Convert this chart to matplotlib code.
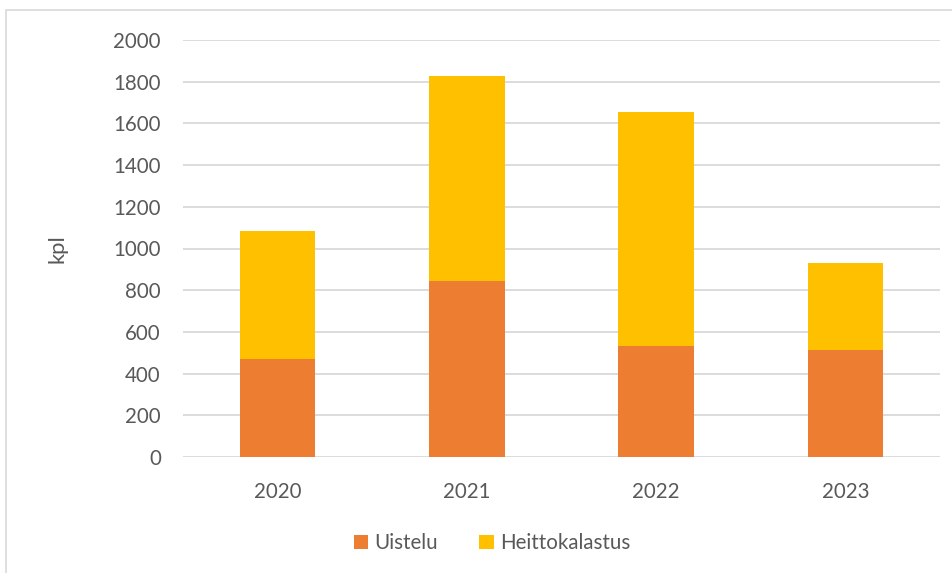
import matplotlib.pyplot as plt
from matplotlib.patches import Rectangle
import numpy as np

# Data
years = ['2020', '2021', '2022', '2023']
uistelu = [468, 842, 533, 515]
heitto_total = [1083, 1826, 1653, 930]
heittokalastus = [t - u for t, u in zip(heitto_total, uistelu)]

plt.rcParams['font.family'] = ['Lato', 'DejaVu Sans']
text_col = '#595959'
fs = 14.8

fig = plt.figure(figsize=(9.52, 5.73), dpi=100)
ax = fig.add_axes([183 / 952, 1 - 457 / 573, 757 / 952, 417 / 573])

x = np.arange(len(years))
ax.bar(x, uistelu, width=0.4, color='#ED7D31', label='Uistelu', zorder=3)
ax.bar(x, heittokalastus, width=0.4, bottom=uistelu, color='#FFC000',
       label='Heittokalastus', zorder=3)

ax.set_xlim(-0.5, len(years) - 0.5)
ax.set_ylim(0, 2000)
ax.set_yticks(range(0, 2001, 200))
ax.set_xticks(x)
ax.set_xticklabels(years)
ax.grid(axis='y', color='#D9D9D9', linewidth=1.3, zorder=0)
for s in ax.spines.values():
    s.set_visible(False)
ax.tick_params(length=0, labelsize=fs, labelcolor=text_col)
ax.tick_params(axis='y', pad=16)
ax.tick_params(axis='x', pad=18)

ax.set_ylabel('kpl', fontsize=fs + 1, color=text_col)
ax.yaxis.set_label_coords(-0.153, 0.5)

fig.legend(loc='center', bbox_to_anchor=(492 / 952, 1 - 543 / 573), ncol=2,
           frameon=False, fontsize=fs, labelcolor=text_col,
           handlelength=0.7, handleheight=0.7, handletextpad=0.3,
           columnspacing=2.0)

# light frame around the chart area
fig.patches.append(Rectangle((6 / 952, -0.1), 1.2, 1 - 10 / 573 + 0.1,
                             transform=fig.transFigure, fill=False,
                             edgecolor='#D9D9D9', linewidth=1.2))

fig.savefig('out.png', dpi=100)
